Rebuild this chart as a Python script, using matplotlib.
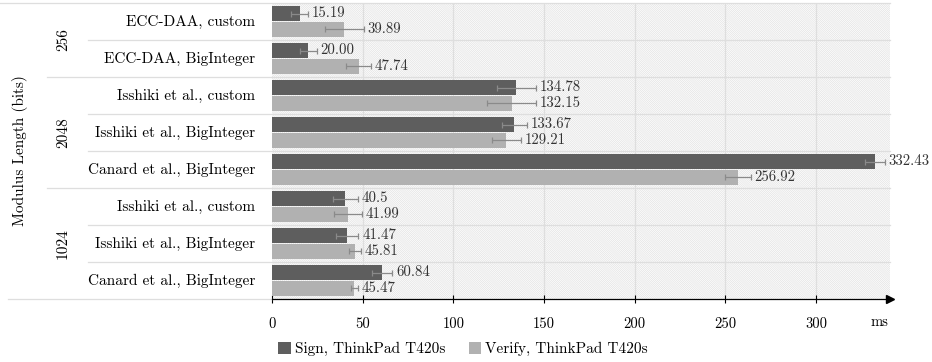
import numpy as np
import matplotlib
matplotlib.use("Agg")
import matplotlib.pyplot as plt
from matplotlib.patches import Rectangle

plt.rcParams['font.family'] = ['cmr10', 'DejaVu Serif']
plt.rcParams['mathtext.fontset'] = 'cm'
plt.rcParams['axes.formatter.use_mathtext'] = True
plt.rcParams['hatch.color'] = '#e2e2e2'
plt.rcParams['hatch.linewidth'] = 0.5

methods = ["ECC-DAA, custom", "ECC-DAA, BigInteger",
           "Isshiki et al., custom", "Isshiki et al., BigInteger", "Canard et al., BigInteger",
           "Isshiki et al., custom", "Isshiki et al., BigInteger", "Canard et al., BigInteger"]
sign = [15.19, 20.00, 134.78, 133.67, 332.43, 40.5, 41.47, 60.84]
verify = [39.89, 47.74, 132.15, 129.21, 256.92, 41.99, 45.81, 45.47]
sign_labels = ["15.19", "20.00", "134.78", "133.67", "332.43", "40.5", "41.47", "60.84"]
verify_labels = ["39.89", "47.74", "132.15", "129.21", "256.92", "41.99", "45.81", "45.47"]
sign_err = [4.6, 4.8, 11.0, 6.7, 5.6, 6.8, 6.2, 5.5]
verify_err = [10.8, 7.0, 13.5, 8.0, 7.0, 7.8, 3.3, 1.7]
group_names = ["256", "2048", "1024"]
group_sizes = [2, 3, 3]
xticks = [0, 50, 100, 150, 200, 250, 300]

sign_color = '#5e5e5e'
verify_color = '#b1b1b1'
err_color = '#8a8a8a'
line_color = '#dedede'

fig = plt.figure(figsize=(9.32, 3.62), dpi=100)
ax = fig.add_axes([272 / 932, 1 - 299 / 362, 618 / 932, 296 / 362])

n = len(methods)
y = np.arange(n)
off = 0.215
h = 0.41
xmax = 340.7

ax.set_xlim(0, xmax)
ax.set_ylim(n - 0.5, -0.5)

# hatched background
ax.add_patch(Rectangle((0, -0.5), xmax, n, facecolor='white', edgecolor='#e2e2e2',
                       hatch='\\' * 16, linewidth=0, zorder=0))

for t in xticks[1:]:
    ax.axvline(t, color=line_color, lw=0.9, zorder=1)

ax.barh(y - off, sign, height=h, color=sign_color, zorder=3, label="Sign, ThinkPad T420s")
ax.barh(y + off, verify, height=h, color=verify_color, zorder=3, label="Verify, ThinkPad T420s")
ax.errorbar(sign, y - off, xerr=sign_err, fmt='none', ecolor=err_color, elinewidth=0.9,
            capsize=2.3, capthick=0.9, zorder=4)
ax.errorbar(verify, y + off, xerr=verify_err, fmt='none', ecolor=err_color, elinewidth=0.9,
            capsize=2.3, capthick=0.9, zorder=4)

for i in range(n):
    ax.text(sign[i] + sign_err[i] + 2, y[i] - off, sign_labels[i], va='center', ha='left',
            fontsize=10.7, color='#333333', zorder=5)
    ax.text(verify[i] + verify_err[i] + 2, y[i] + off, verify_labels[i], va='center', ha='left',
            fontsize=10.7, color='#333333', zorder=5)

# category labels and row separators
tr = ax.get_yaxis_transform()
for i in range(n):
    ax.text(-0.027, y[i], methods[i], transform=tr, ha='right', va='center', fontsize=11)

ax.plot([-0.44, 1], [-0.5, -0.5], transform=tr, color=line_color, lw=0.9, clip_on=False, zorder=2)
start = 0
for g, size in zip(group_names, group_sizes):
    for k in range(start + 1, start + size):
        ax.plot([-0.298, 1], [k - 0.5, k - 0.5], transform=tr, color=line_color, lw=0.9,
                clip_on=False, zorder=2)
    end = start + size
    left = -0.427 if end == n else -0.364
    ax.plot([left, 0], [end - 0.5, end - 0.5], transform=tr, color=line_color, lw=0.9,
            clip_on=False, zorder=2)
    if end < n:
        ax.plot([0, 1], [end - 0.5, end - 0.5], transform=tr, color=line_color, lw=0.9,
                clip_on=False, zorder=2)
    ax.text(-0.338, (start + end - 1) / 2, g, transform=tr, rotation=90, ha='center',
            va='center', fontsize=11)
    start = end

ax.text(-0.408, (n - 1) / 2, "Modulus Length (bits)", transform=tr, rotation=90,
        ha='center', va='center', fontsize=11)

# axes styling
for s in ['top', 'right', 'left']:
    ax.spines[s].set_visible(False)
ax.spines['bottom'].set_linewidth(0.9)
ax.set_yticks([])
ax.set_xticks(xticks)
ax.set_xticklabels([str(t) for t in xticks], fontsize=10.5)
ax.tick_params(axis='x', direction='inout', length=6, width=0.8, pad=10)
ax.plot([1], [0], transform=ax.transAxes, marker='>', color='black', markersize=6,
        clip_on=False, zorder=6)
ax.text(xmax - 6, -23 / 296, "ms", transform=ax.get_xaxis_transform(), ha='center',
        va='center', fontsize=10.5)

fig.legend(loc='center', bbox_to_anchor=(0.497, 0.035), ncol=2, frameon=False, fontsize=11,
           handlelength=0.8, handleheight=0.8, handletextpad=0.3, columnspacing=1.5)

fig.savefig("out.png", dpi=100)
